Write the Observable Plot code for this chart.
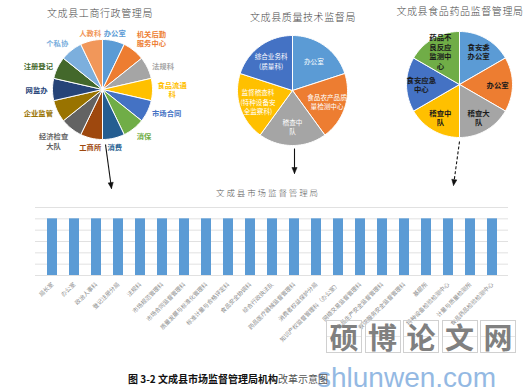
<!DOCTYPE html>
<html><head><meta charset="utf-8">
<script src="https://cdn.jsdelivr.net/npm/d3@7"></script>
<script src="https://cdn.jsdelivr.net/npm/@observablehq/plot@0.6"></script>
<style>
body{margin:0;background:#fff;}
#root{position:relative;width:523px;height:392px;overflow:hidden;background:#fff;font-family:"Noto Sans CJK SC","Noto Sans",sans-serif;}
.t{position:absolute;white-space:nowrap;transform:translate(-50%,-50%);}
.box{position:absolute;width:36px;height:33px;border:1px solid #d0d0d0;box-sizing:border-box;
 background-image:linear-gradient(to right,transparent 49%,#e6e6e6 49%,#e6e6e6 51%,transparent 51%),linear-gradient(to bottom,transparent 49%,#e6e6e6 49%,#e6e6e6 51%,transparent 51%);
 color:#808080;font-size:29px;font-weight:700;line-height:31px;text-align:center;}
</style></head>
<body><div id="root"></div>
<script>
// ---------- data ----------
const pie1Title = "文成县工商行政管理局";
const pie1Names = ["办公室","机关后勤\n服务中心","法规科","食品流通\n科","市场合同","消保","消费","工商所","经济检查\n大队","企业监管","网监办","注册登记","个私协","人教科"];
const pie1Values = [1,1,1,1,1,1,1,1,1,1,1,1,1,1];

const pie2Title = "文成县质量技术监督局";
const pie2Names = ["办公室","食品农产品质\n量检测中心","稽查中\n队","监督稽查科\n(特种设备安\n全监察科)","综合业务科\n(质量科)"];
const pie2Values = [1,1,1,1,1];

const pie3Title = "文成县食品药品监督管理局";
const pie3Names = ["食安委\n办公室","办公室","稽查大\n队","稽查中\n队","食安应急\n中心","药品不\n良反应\n监测中\n心"];
const pie3Values = [1,1,1,1,1,1];

const barTitle = "文成县市场监督管理局";
const barCategories = ["局长室","办公室","政治人事科","登记注册分局","法规科","市场规范管理科","市场合同监督管理科","质量发展与标准化管理科","标准计量与合格评定科","食品安全协调科","综合行政执法队","药品医疗器械监督管理科","消费者权益保护分局","知识产权监督管理科（办公室）","网络交易监督管理科","食品生产安全监督管理科","餐饮服务安全监督管理科","基层所","特种设备检验检测中心","计量与质量检测所","食品药品检验检测中心"];
const barValues = [1,1,1,1,1,1,1,1,1,1,1,1,1,1,1,1,1,1,1,1,1];
const yTicks = [0,0.2,0.4,0.6,0.8,1.0,1.2];

const captionMain = "图 3-2 文成县市场监督管理局机构";
const captionRest = "改革示意图";
const wmChars = ["硕","博","论","文","网"];
const wmSite = "shlunwen.com";

// ---------- styles / layout ----------
const palette = ["#5B9BD5","#ED7D31","#A5A5A5","#FFC000","#4472C4","#70AD47","#255E91","#9E480E","#636363","#997300","#264478","#43682B","#7CAFDD","#F1975A"];
const W = 523, H = 392, PIE_H = 178;
const FONT = '"Noto Sans CJK SC","Noto Sans",sans-serif';
const pieLayouts = [
  {cx:102, cy:89, r:50, mode:"outside", k:1.1, fs:7.3, fw:700, lh:1.3, color:null},
  {cx:292, cy:90, r:55, mode:"inside", k:0.66, fs:6.6, fw:400, lh:1.4, color:"#ffffff"},
  {cx:459, cy:84, r:53, mode:"inside", k:0.72, fs:7.4, fw:700, lh:1.3, color:"#1a1a1a"}
];
const arrowLayout = [
  {x1:105,y1:144,x2:111,y2:188,dash:null},
  {x1:294,y1:148,x2:294,y2:173,dash:null},
  {x1:459,y1:141,x2:453,y2:185,dash:"3,2"}
];

const root = document.getElementById("root");
function place(node, left, top){ node.style.position="absolute"; node.style.left=left+"px"; node.style.top=top+"px"; root.appendChild(node); return node; }
function label(text, x, y, css){ const d=document.createElement("div"); d.className="t"; d.textContent=text; d.style.left=x+"px"; d.style.top=y+"px"; Object.assign(d.style, css||{}); root.appendChild(d); return d; }
function textWidthEm(s){ return Math.max(...s.split("\n").map(line=>[...line].reduce((w,ch)=>w+(ch.charCodeAt(0)>255?1:0.5),0))); }

function piePlot(names, values, L){
  const rows = names.map((name,i)=>({name, value:values[i], color:palette[i%palette.length]}));
  const arcs = d3.pie().sort(null).value(d=>d.value)(rows);
  const pts = [];
  arcs.forEach((a,i)=>{
    pts.push({k:i,x:0,y:0,color:a.data.color});
    const n = Math.max(2, Math.ceil((a.endAngle-a.startAngle)/0.03));
    for(let j=0;j<=n;j++){ const t=a.startAngle+(a.endAngle-a.startAngle)*j/n; pts.push({k:i,x:Math.sin(t),y:Math.cos(t),color:a.data.color}); }
    pts.push({k:i,x:0,y:0,color:a.data.color});
  });
  const labs = arcs.map(a=>{
    const m=(a.startAngle+a.endAngle)/2, s=Math.sin(m), c=Math.cos(m);
    let x=s*L.k, y=c*L.k, la="middle";
    if(L.mode==="outside"){
      const half = textWidthEm(a.data.name)*L.fs/2/L.r;
      if(s>0.35) x+=half; else if(s<-0.35) x-=half;
      la = c>0.5?"bottom":(c<-0.5?"top":"middle");
    }
    return {x, y, text:a.data.name, fill:L.color||a.data.color, la};
  });
  const keys = [...new Set(labs.map(d=>d.la))];
  const textMarks = keys.map(la=>Plot.text(labs.filter(d=>d.la===la),{x:"x",y:"y",text:"text",fill:"fill",textAnchor:"middle",lineAnchor:la,fontSize:L.fs,fontWeight:L.fw,lineHeight:L.lh}));
  return Plot.plot({
    width:W, height:PIE_H, margin:0,
    x:{domain:[-L.cx/L.r,(W-L.cx)/L.r], axis:null},
    y:{domain:[-(PIE_H-L.cy)/L.r, L.cy/L.r], axis:null},
    color:{type:"identity"},
    style:{background:"transparent", fontFamily:FONT, overflow:"visible"},
    marks:[
      Plot.line(pts,{x:"x",y:"y",z:"k",fill:"color",stroke:"#ffffff",strokeWidth:1,curve:"linear"}),
      ...textMarks
    ]
  });
}

// pies
place(piePlot(pie1Names,pie1Values,pieLayouts[0]),0,0);
place(piePlot(pie2Names,pie2Values,pieLayouts[1]),0,0);
place(piePlot(pie3Names,pie3Values,pieLayouts[2]),0,0);

// pie titles
const titleCss = {fontSize:"10px", color:"#4a4a4a", letterSpacing:"0.6px", fontWeight:"300"};
label(pie1Title, 100, 12, titleCss);
label(pie2Title, 303, 16, titleCss);
label(pie3Title, 460, 10, titleCss);

// bar chart
const bars = barCategories.map((c,i)=>({c, v:barValues[i]}));
const barPlot = Plot.plot({
  width:W, height:172, marginLeft:35, marginRight:15, marginTop:27, marginBottom:77,
  style:{background:"transparent", fontSize:"5.8px", fontFamily:FONT, color:"#8c8c8c", overflow:"visible"},
  x:{domain:barCategories, paddingInner:0.55, paddingOuter:0.275, tickRotate:-45, tickSize:0, tickPadding:8, label:null},
  y:{domain:[0,1.2], axis:null},
  marks:[
    Plot.ruleY(yTicks,{stroke:"#d9d9d9", strokeWidth:0.8}),
    Plot.barY(bars,{x:"c", y:"v", fill:"#5B9BD5"})
  ]
});
place(barPlot,0,180);
label(barTitle, 268, 192, {fontSize:"8.5px", color:"#595959", letterSpacing:"1.9px", fontWeight:"300"});

// arrows
const heads = [];
arrowLayout.forEach((a,i)=>{
  const dx=a.x2-a.x1, dy=a.y2-a.y1, len=Math.hypot(dx,dy), ux=dx/len, uy=dy/len;
  const bx=a.x2-ux*6, by=a.y2-uy*6;
  heads.push({k:i,x:a.x2,y:a.y2},{k:i,x:bx-uy*2.6,y:by+ux*2.6},{k:i,x:bx+uy*2.6,y:by-ux*2.6},{k:i,x:a.x2,y:a.y2});
});
const arrowPlot = Plot.plot({
  width:W, height:H, margin:0,
  x:{domain:[0,W], axis:null}, y:{domain:[0,H], range:[0,H], axis:null},
  style:{background:"transparent", overflow:"visible"},
  marks:[
    Plot.link(arrowLayout.filter(a=>!a.dash),{x1:"x1",y1:"y1",x2:"x2",y2:"y2",stroke:"#111",strokeWidth:1.1}),
    Plot.link(arrowLayout.filter(a=>a.dash),{x1:"x1",y1:"y1",x2:"x2",y2:"y2",stroke:"#111",strokeWidth:1.1,strokeDasharray:"3,2"}),
    Plot.line(heads,{x:"x",y:"y",z:"k",fill:"#111",stroke:"#111",strokeWidth:0.5})
  ]
});
arrowPlot.style.pointerEvents="none";
place(arrowPlot,0,0);

// watermark
wmChars.forEach((ch,i)=>{ const b=document.createElement("div"); b.className="box"; b.textContent=ch; place(b, 326+i*38.5, 320); });
const site = document.createElement("div");
site.textContent = wmSite;
Object.assign(site.style,{fontFamily:'"Liberation Sans",Arial,sans-serif', fontSize:"28px", color:"#94b9e3", lineHeight:"28px", whiteSpace:"nowrap"});
place(site, 317, 364);

// caption
const cap = document.createElement("div");
const s1 = document.createElement("span"); s1.textContent = captionMain; s1.style.fontWeight="700"; s1.style.color="#111";
const s2 = document.createElement("span"); s2.textContent = captionRest; s2.style.color="#555";
cap.appendChild(s1); cap.appendChild(s2);
Object.assign(cap.style,{fontSize:"10px", lineHeight:"14px", whiteSpace:"nowrap"});
place(cap, 128, 372);
</script>
</body></html>
